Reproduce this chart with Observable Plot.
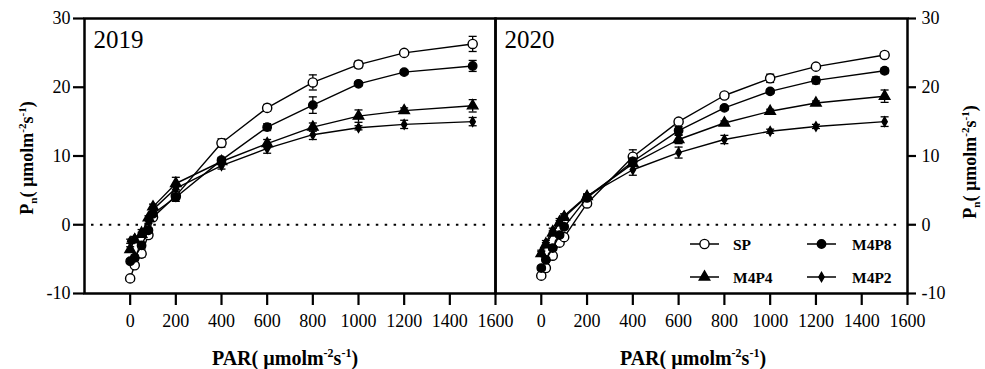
<!DOCTYPE html>
<html><head><meta charset="utf-8">
<script src="https://cdn.jsdelivr.net/npm/d3@7"></script>
<script src="https://cdn.jsdelivr.net/npm/@observablehq/plot@0.6"></script>
<style>
body{margin:0;background:#fff;}
#wrap{position:relative;width:985px;height:369px;overflow:hidden;font-family:"Liberation Serif","Times New Roman",serif;}
#wrap svg{position:absolute;top:0;overflow:visible;max-width:none;}
</style></head><body><div id="wrap"></div>
<script>
// ---- data ----
const par = [0, 20, 50, 80, 100, 200, 400, 600, 800, 1000, 1200, 1500];
const seriesNames = ["SP", "M4P8", "M4P4", "M4P2"];
const xTicks = [0, 200, 400, 600, 800, 1000, 1200, 1400, 1600];
const yTicks = [-10, 0, 10, 20, 30];

// 2019
const sp2019   = [-7.8, -5.9, -4.2, -1.5, 1.1, 4.2, 11.9, 17.0, 20.7, 23.3, 25.0, 26.3];
const sp2019e  = [0.4, 0.3, 0.5, 0.4, 0.3, 0.4, 0.6, 0.5, 1.1, 0.5, 0.3, 1.1];
const m8_2019  = [-5.3, -4.8, -3.0, -0.8, 1.6, 4.0, 9.4, 14.2, 17.4, 20.5, 22.2, 23.1];
const m8_2019e = [0.3, 0.4, 0.5, 0.3, 0.3, 0.6, 0.4, 0.5, 1.2, 0.3, 0.3, 0.8];
const m4_2019  = [-3.6, -2.2, -1.4, 1.0, 2.6, 6.0, 9.2, 11.8, 14.2, 15.8, 16.6, 17.3];
const m4_2019e = [0.4, 0.3, 0.3, 0.3, 0.4, 0.9, 0.4, 0.6, 0.6, 0.9, 0.4, 0.9];
const m2_2019  = [-2.4, -2.0, -1.0, 0.5, 2.2, 5.3, 8.6, 11.1, 13.1, 14.1, 14.6, 15.0];
const m2_2019e = [0.3, 0.3, 0.3, 0.3, 0.3, 0.4, 0.5, 0.7, 0.7, 0.3, 0.6, 0.6];

// 2020
const sp2020   = [-7.4, -6.3, -4.5, -2.6, -1.8, 3.1, 9.9, 15.0, 18.8, 21.3, 23.0, 24.7];
const sp2020e  = [0.3, 0.3, 0.3, 0.3, 0.3, 0.3, 1.0, 0.4, 0.4, 0.6, 0.3, 0.4];
const m8_2020  = [-6.3, -5.1, -3.4, -1.5, -0.3, 3.9, 9.2, 13.7, 17.0, 19.4, 21.0, 22.4];
const m8_2020e = [0.3, 0.3, 0.3, 0.3, 0.3, 0.3, 0.5, 0.6, 0.3, 0.3, 0.5, 0.4];
const m4_2020  = [-4.2, -2.9, -1.2, 0.3, 1.1, 4.1, 8.9, 12.4, 14.8, 16.5, 17.7, 18.7];
const m4_2020e = [0.3, 0.3, 0.3, 0.3, 0.3, 0.3, 0.4, 0.6, 0.3, 0.3, 0.3, 0.9];
const m2_2020  = [-4.0, -2.6, -0.8, 0.6, 1.3, 4.2, 8.0, 10.5, 12.4, 13.6, 14.3, 15.0];
const m2_2020e = [0.3, 0.3, 0.3, 0.3, 0.3, 0.3, 0.8, 0.8, 0.6, 0.3, 0.3, 0.7];

function rows(vals, errs, name) {
  return par.map((p, i) => ({par: p, pn: vals[i], err: errs[i], s: name}));
}
const data2019 = [
  ...rows(sp2019, sp2019e, "SP"), ...rows(m8_2019, m8_2019e, "M4P8"),
  ...rows(m4_2019, m4_2019e, "M4P4"), ...rows(m2_2019, m2_2019e, "M4P2")];
const data2020 = [
  ...rows(sp2020, sp2020e, "SP"), ...rows(m8_2020, m8_2020e, "M4P8"),
  ...rows(m4_2020, m4_2020e, "M4P4"), ...rows(m2_2020, m2_2020e, "M4P2")];

// ---- styles ----
const styles = {
  SP:   {symbol: "circle",   r: 4.6, fill: "white"},
  M4P8: {symbol: "circle",   r: 4.2, fill: "black"},
  M4P4: {symbol: "triangle", r: 3.9, fill: "black"},
  M4P2: {symbol: "diamond",  r: 2.8, fill: "black"}
};
const capSymbol = {draw(ctx) { ctx.moveTo(-4, 0); ctx.lineTo(4, 0); }};
const FONT = '"Liberation Serif","Times New Roman",serif';

function panel(year, data, side) {
  const left = side === "left";
  const marks = [
    Plot.ruleY([0], {strokeDasharray: "2.5,6.4", strokeWidth: 2, insetLeft: 7, insetRight: 5}),
  ];
  for (const name of seriesNames) {
    const d = data.filter(r => r.s === name);
    const st = styles[name];
    marks.push(Plot.line(d, {x: "par", y: "pn", stroke: "black", strokeWidth: 1.4}));
    marks.push(Plot.ruleX(d, {x: "par", y1: r => r.pn - r.err, y2: r => r.pn + r.err, stroke: "black", strokeWidth: 1.3}));
    marks.push(Plot.dot(d, {x: "par", y: r => r.pn + r.err, symbol: capSymbol, r: 3, fill: "none", stroke: "black", strokeWidth: 1.3}));
    marks.push(Plot.dot(d, {x: "par", y: r => r.pn - r.err, symbol: capSymbol, r: 3, fill: "none", stroke: "black", strokeWidth: 1.3}));
    marks.push(Plot.dot(d, {x: "par", y: "pn", symbol: st.symbol, r: st.r, fill: st.fill, stroke: "black", strokeWidth: 1.4}));
  }
  marks.push(Plot.text([year], {frameAnchor: "top-left", dx: 9, dy: 29, lineAnchor: "bottom", textAnchor: "start", fontSize: 25, fill: "black"}));
  marks.push(Plot.axisX({ticks: xTicks, tickFormat: d => String(d), tickSize: 12, tickPadding: 9, label: null, strokeWidth: 2.2, fontSize: 18}));
  marks.push(Plot.axisY({anchor: left ? "left" : "right", ticks: yTicks, tickFormat: d => String(d), tickSize: left ? 11 : 8, tickPadding: left ? 3 : 6, label: null, strokeWidth: 2.2, fontSize: 18}));
  marks.push(Plot.frame({stroke: "black", strokeWidth: 2.5}));
  return Plot.plot({
    width: left ? 495 : 490,
    height: 369,
    marginLeft: left ? 84 : 0,
    marginRight: left ? 0 : 78,
    marginTop: 18,
    marginBottom: 76,
    x: {domain: [-200, 1600]},
    y: {domain: [-10, 30]},
    style: {fontFamily: FONT, fontSize: "18px", color: "black", background: "transparent", overflow: "visible", maxWidth: "none"},
    marks
  });
}

function richText(sel, x, y, rotate, parts, size, supSize, supShift, subShift) {
  const t = sel.append("text")
    .attr("transform", `translate(${x},${y})` + (rotate ? ` rotate(${rotate})` : ""))
    .attr("text-anchor", "middle")
    .style("font-family", FONT)
    .attr("font-weight", "bold")
    .attr("font-size", size)
    .attr("fill", "black");
  let shift = 0;
  for (const p of parts) {
    const target = p.sup ? -supShift : p.sub ? subShift : 0;
    const ts = t.append("tspan").attr("dy", target - shift).text(p.t);
    if (p.sup || p.sub) ts.attr("font-size", supSize);
    shift = target;
  }
  return t;
}
const yLabelParts = [{t: "P"}, {t: "n", sub: true}, {t: "( µmolm"}, {t: "-2", sup: true}, {t: "s"}, {t: "-1", sup: true}, {t: ")"}];
const xLabelParts = [{t: "PAR( µmolm"}, {t: "-2", sup: true}, {t: "s"}, {t: "-1", sup: true}, {t: ")"}];

const wrap = document.getElementById("wrap");
const p1 = panel("2019", data2019, "left");
const p2 = panel("2020", data2020, "right");
p1.style.left = "0px";
p2.style.left = "495px";
wrap.appendChild(p1);
wrap.appendChild(p2);

const s1 = d3.select(p1), s2 = d3.select(p2);
richText(s1, 33, 158, -90, yLabelParts, 18, 11, 7, 4);
richText(s2, 481, 162, -90, yLabelParts, 18, 11, 7, 4);
richText(s1, 285, 365, 0, xLabelParts, 20, 12, 8, 4);
richText(s2, 198, 365, 0, xLabelParts, 20, 12, 8, 4);

// legend (inside right panel)
const legendItems = [
  {name: "SP",   lx: 195, ly: 244, tx: 238},
  {name: "M4P8", lx: 312, ly: 244, tx: 357},
  {name: "M4P4", lx: 195, ly: 277, tx: 238},
  {name: "M4P2", lx: 312, ly: 277, tx: 357}
];
const lg = s2.append("g");
const symMap = {circle: d3.symbolCircle, triangle: d3.symbolTriangle, diamond: d3.symbolDiamond};
for (const it of legendItems) {
  const st = styles[it.name];
  lg.append("line").attr("x1", it.lx).attr("x2", it.lx + 29).attr("y1", it.ly).attr("y2", it.ly)
    .attr("stroke", "black").attr("stroke-width", 1.5);
  lg.append("path").attr("transform", `translate(${it.lx + 14.5},${it.ly})`)
    .attr("d", d3.symbol(symMap[st.symbol], Math.PI * st.r * st.r)())
    .attr("fill", st.fill).attr("stroke", "black").attr("stroke-width", 1.4);
  lg.append("text").attr("x", it.tx).attr("y", it.ly + 5.5).attr("text-anchor", "start").style("font-family", FONT)
    .attr("font-weight", "bold").attr("font-size", 15.5).attr("fill", "black").text(it.name);
}
</script></body></html>
